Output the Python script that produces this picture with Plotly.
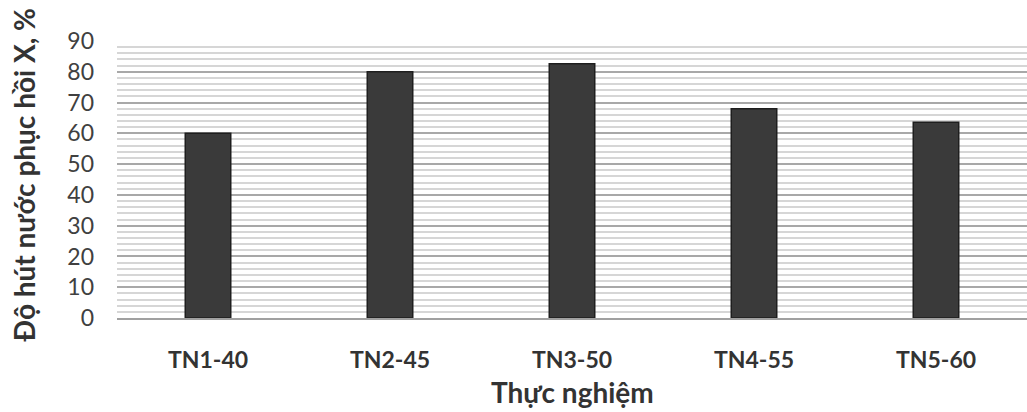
import plotly.graph_objects as go

categories = ["TN1-40", "TN2-45", "TN3-50", "TN4-55", "TN5-60"]
values = [60, 80, 82.6, 68, 63.6]
y_ticks = [0, 10, 20, 30, 40, 50, 60, 70, 80, 90]

FONT = "Lato"

fig = go.Figure()
fig.add_trace(go.Bar(
    x=categories, y=values, width=0.25,
    marker=dict(color="#3a3a3a", line=dict(color="#1e1e1e", width=1.5)),
))

fig.update_layout(
    width=1027, height=412,
    margin=dict(l=117, r=0, t=41, b=94),
    paper_bgcolor="white", plot_bgcolor="white",
    showlegend=False,
    font=dict(family=FONT, color="#404040"),
    xaxis=dict(
        range=[-0.5, 4.5], showgrid=False, zeroline=False,
        showline=True, linecolor="#a0a0a0", linewidth=2,
        tickfont=dict(family=FONT, size=23, color="#333333", weight="bold"),
        ticks="", ticklabelstandoff=20,
    ),
    yaxis=dict(
        range=[0, 90], tickvals=y_ticks,
        showgrid=True, gridcolor="#a8a8a8", gridwidth=1.6,
        minor=dict(dtick=2, showgrid=True, gridcolor="#d6d6d6", gridwidth=1.6),
        zeroline=False, showline=False,
        tickfont=dict(family=FONT, size=23, color="#404040"),
        ticks="", ticklabelstandoff=22,
    ),
    annotations=[
        dict(text="<b>Độ hút nước phục hồi X, %</b>", xref="paper", yref="paper",
             x=-117/910, y=0.5, xanchor="center", yanchor="middle", textangle=-90,
             showarrow=False, font=dict(family=FONT, size=28, color="#333333"),
             xshift=23, yshift=4),
        dict(text="<b>Thực nghiệm</b>", xref="paper", yref="paper",
             x=0.5, y=0, yanchor="middle", showarrow=False, yshift=-74,
             font=dict(family=FONT, size=28, color="#333333")),
    ],
)

fig.write_html("out.html")
